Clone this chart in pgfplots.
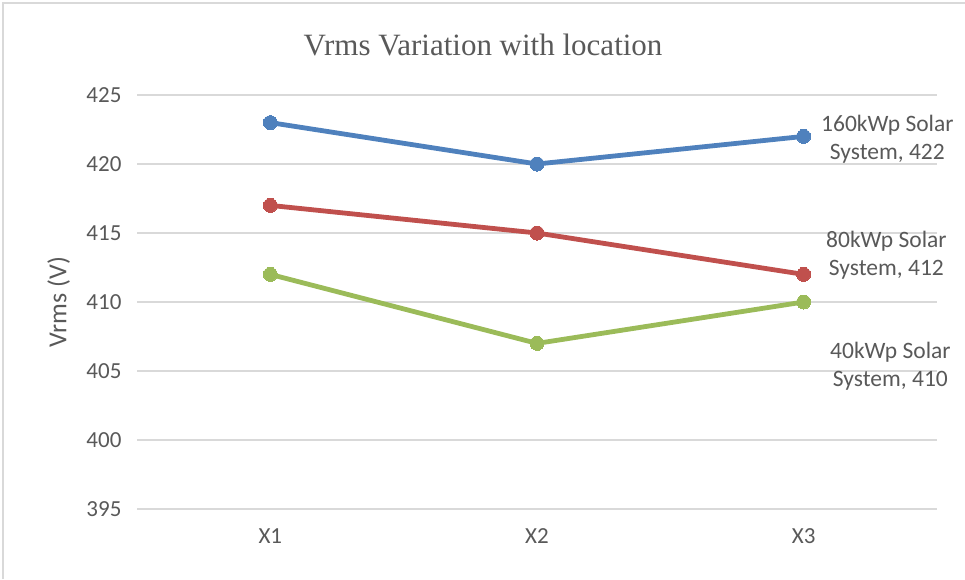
\documentclass[border=0pt]{standalone}
\usepackage{fontspec}
\setmainfont{Carlito}
\newfontfamily\titlefont{Liberation Serif}
\usepackage{pgfplots}
\pgfplotsset{compat=1.18}
\definecolor{cblue}{RGB}{79,129,189}
\definecolor{cred}{RGB}{192,80,77}
\definecolor{cgreen}{RGB}{155,187,89}
\definecolor{tgray}{RGB}{89,89,89}
\definecolor{gridgray}{RGB}{217,217,217}
\begin{document}
\begin{tikzpicture}[x=1pt,y=1pt]
\path[use as bounding box] (0,0) rectangle (965,579);
\draw[gridgray, line width=1.2pt] (3,0) -- (3,576) -- (965,576);
\node[font=\titlefont\fontsize{31}{36}\selectfont, text=tgray] at (483,534) {Vrms Variation with location};
\begin{axis}[at={(137pt,70pt)}, anchor=south west, scale only axis,
  width=800pt, height=414pt,
  xmin=-0.5, xmax=2.5, ymin=395, ymax=425,
  ytick={395,400,...,425}, xtick={0,1,2}, xticklabels={X1,X2,X3},
  axis line style={draw=none}, major tick length=0pt,
  ymajorgrids, grid style={line width=1.5pt, color=gridgray},
  ticklabel style={font=\fontsize{23}{27}\selectfont, text=tgray},
  yticklabel style={xshift=-12pt},
  xticklabel style={yshift=-16pt},
  /pgf/number format/assume math mode=true,
  ylabel={Vrms (V)},
  ylabel style={font=\fontsize{26}{30}\selectfont, text=tgray, at={(axis description cs:-0.098,0.5)}, anchor=center},
  clip=false]
\addplot[cblue, line width=4.8pt, mark=*, mark size=7pt, mark options={fill=cblue, draw=cblue, line width=0pt}] coordinates {(0,423) (1,420) (2,422)};
\addplot[cred, line width=4.8pt, mark=*, mark size=7pt, mark options={fill=cred, draw=cred, line width=0pt}] coordinates {(0,417) (1,415) (2,412)};
\addplot[cgreen, line width=4.8pt, mark=*, mark size=7pt, mark options={fill=cgreen, draw=cgreen, line width=0pt}] coordinates {(0,412) (1,407) (2,410)};
\node[anchor=west, align=center, font=\fontsize{23.5}{28}\selectfont, text=tgray, xshift=14pt, yshift=-3pt] at (axis cs:2,422) {160kWp Solar\\System, 422};
\node[anchor=west, align=center, font=\fontsize{23.5}{28}\selectfont, text=tgray, xshift=19pt, yshift=19pt] at (axis cs:2,412) {80kWp Solar\\System, 412};
\node[anchor=west, align=center, font=\fontsize{23.5}{28}\selectfont, text=tgray, xshift=23pt, yshift=-64pt] at (axis cs:2,410) {40kWp Solar\\System, 410};
\end{axis}
\end{tikzpicture}
\end{document}
